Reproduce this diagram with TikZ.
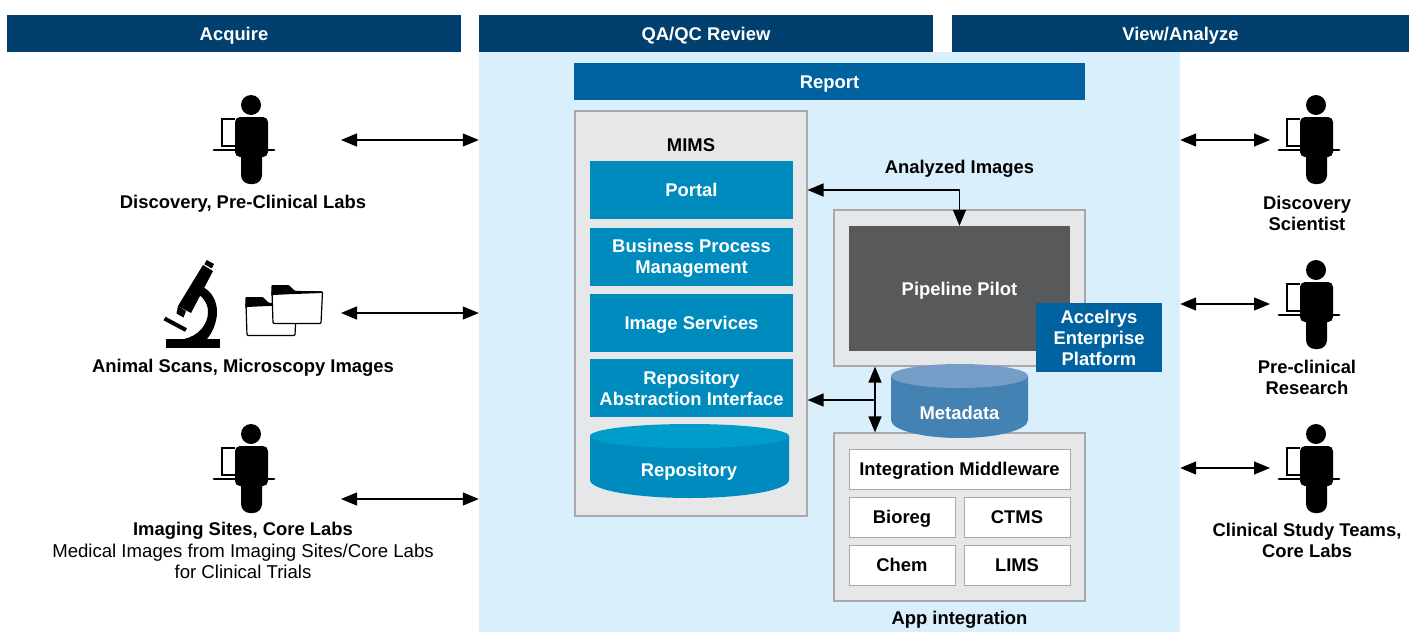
\documentclass[tikz,border=0pt]{standalone}
\usepackage{fontspec}
\usetikzlibrary{arrows.meta}
\setmainfont{Liberation Sans}
\definecolor{headblue}{HTML}{003F6E}
\definecolor{reportblue}{HTML}{0063A0}
\definecolor{bgblue}{HTML}{D9EFFB}
\definecolor{midblue}{HTML}{008BBF}
\definecolor{repotop}{HTML}{009DCB}
\definecolor{metaside}{HTML}{4382B3}
\definecolor{metatop}{HTML}{769DC8}
\definecolor{panelgrey}{HTML}{E6E7E8}
\definecolor{panelline}{HTML}{A7A9AC}
\definecolor{pilotgrey}{HTML}{58595B}
\tikzset{
  headbar/.style={fill=headblue,text=white,font=\fontsize{18.4}{21}\selectfont\bfseries,minimum height=37pt,inner sep=0pt,text height=16pt,text depth=3pt},
  bluebox/.style={fill=midblue,text=white,font=\fontsize{18.4}{21}\selectfont\bfseries,align=center,minimum width=203pt,inner sep=0pt},
  panel/.style={fill=panelgrey,draw=panelline,line width=1.2pt,inner sep=0pt},
  whitebox/.style={fill=white,draw=panelline,line width=1pt,font=\fontsize{18.4}{21}\selectfont\bfseries,inner sep=0pt,text height=16pt,text depth=3pt},
  caption/.style={font=\fontsize{18.4}{21}\selectfont\bfseries,align=center,inner sep=0pt},
  plaincap/.style={font=\fontsize{18.6}{21}\selectfont,align=center,inner sep=0pt},
  arr/.style={line width=1.3pt,{Triangle[length=16pt,width=13pt]}-{Triangle[length=16pt,width=13pt]}},
  person/.pic={
    \fill (0,0) circle[radius=10pt];
    \fill[rounded corners=5pt] (-16,12) rectangle (17,52);
    \fill[rounded corners=9pt] (-10,35) rectangle (11,79);
    \draw[line width=2pt] (-16,14) -- (-29,14) -- (-29,41) -- (-16,41);
    \draw[line width=2.8pt,line cap=round] (-37,45) -- (23,45);
  },
  folder/.pic={
    \draw[fill=white,line width=1.2pt,rounded corners=1pt] (0,6) -- (50.5,7) -- (49,38.5) -- (1,38.5) -- cycle;
    \fill[rounded corners=1pt] (-0.6,12) -- (-0.6,0) -- (17,0) -- (23,6) -- (50.8,6.5) -- (50.8,8) -- (22,9) -- (0.6,10) -- cycle;
  }
}
\begin{document}
\begin{tikzpicture}[x=1pt,y=-1pt]
\useasboundingbox (0,0) rectangle (1411,632);
% backdrop
\node (bg) at (829.5,342) [fill=bgblue,minimum width=701pt,minimum height=580pt,inner sep=0pt] {};
% headers
\node (acquire) at (234,33.5) [headbar,minimum width=454pt] {Acquire};
\node (review) at (706,33.5) [headbar,minimum width=454pt] {QA/QC Review};
\node (viewer) at (1180.5,33.5) [headbar,minimum width=457pt] {View/Analyze};
\node (report) at (829.5,81.5) [headbar,fill=reportblue,minimum width=511pt] {Report};
% MIMS column
\node (mims) at (691,313.5) [panel,minimum width=232pt,minimum height=405pt] {};
\node (mimslabel) at (691,145.5) [caption] {MIMS};
\node (portal) at (691.5,190) [bluebox,minimum height=58pt] {Portal};
\node (bpm) at (691.5,257) [bluebox,minimum height=58pt] {\rule{0pt}{15pt}Business Process\\Management};
\node (imgserv) at (691.5,323) [bluebox,minimum height=58pt,text height=16pt,text depth=3pt] {Image Services};
\node (rai) at (691.5,388) [bluebox,minimum height=58pt] {Repository\\Abstraction Interface};
\fill[midblue] (590,436) -- (590,480) arc[start angle=180,end angle=360,x radius=99.5pt,y radius=18pt] -- (789,436) -- cycle;
\fill[repotop] (689.5,436) ellipse[x radius=99.5pt,y radius=12pt];
\node (repo) at (689,472) [caption,text=white] {Repository};
% pipeline
\node (pipebox) at (959.5,288) [panel,minimum width=251pt,minimum height=156pt] {};
\node (pilot) at (959.5,288.5) [fill=pilotgrey,text=white,font=\fontsize{18.4}{21}\selectfont\bfseries,minimum width=221pt,minimum height=125pt,inner sep=0pt,text height=16pt,text depth=3pt] {Pipeline Pilot};
\node (accelrys) at (1099,337.5) [bluebox,fill=reportblue,minimum width=126pt,minimum height=69pt] {Accelrys\\Enterprise\\Platform};
\node (analyzed) at (959.5,169) [caption] {Analyzed Images};
% app integration
\node (appbox) at (959.5,517) [panel,minimum width=251pt,minimum height=168pt] {};
\node (middleware) at (959.5,469) [whitebox,minimum width=221pt,minimum height=40pt] {Integration Middleware};
\node (bioreg) at (902,517) [whitebox,minimum width=106pt,minimum height=40pt] {Bioreg};
\node (ctms) at (1017,517) [whitebox,minimum width=106pt,minimum height=40pt] {CTMS};
\node (chem) at (902,565) [whitebox,minimum width=106pt,minimum height=40pt] {Chem};
\node (lims) at (1017,565) [whitebox,minimum width=106pt,minimum height=40pt] {LIMS};
\node (applabel) at (959.5,620) [caption] {App integration};
% metadata
\fill[metaside] (891,376) -- (891,420) arc[start angle=180,end angle=360,x radius=68.5pt,y radius=18pt] -- (1028,376) -- cycle;
\fill[metatop] (959.5,376) ellipse[x radius=68.5pt,y radius=12pt];
\node (meta) at (959.5,413) [caption,text=white] {Metadata};
% people on the left
\pic at (251,105) {person};
\node (lab1) at (243,204) [caption] {Discovery, Pre-Clinical Labs};
\pic at (251,434) {person};
\node (lab3) at (243,531) [caption] {Imaging Sites, Core Labs};
\node (lab3b) at (243,561.5) [plaincap] {Medical Images from Imaging Sites/Core Labs\\for Clinical Trials};
% microscope and folders
\fill (166,339) rectangle (220,347.5);
\draw[line width=4pt] (164.5,318.5) -- (186,330);
\fill (206.7,260) -- (214,264) -- (211.7,268.3) -- (204.3,264.3) -- cycle;
\fill (203,265) -- (213,271) -- (191,313) -- (178,306) -- cycle;
\fill (178,306) -- (186,311) -- (183.5,317.5) -- (176.5,313.5) -- cycle;
\fill (203,287) .. controls (212,292) and (217,301) .. (217,312) .. controls (217,323) and (212,333) .. (207,339) -- (184,339) .. controls (198,336) and (208,325) .. (208,312) .. controls (208,304) and (204,298) .. (198,294) -- cycle;
\pic at (246,297) {folder};
\pic at (272,285) {folder};
\node (lab2) at (243,368) [caption] {Animal Scans, Microscopy Images};
% people on the right
\pic at (1316,105) {person};
\node (sci) at (1307,213) [caption] {Discovery\\Scientist};
\pic at (1316,270) {person};
\node (res) at (1307,377) [caption] {Pre-clinical\\Research};
\pic at (1316,434) {person};
\node (teams) at (1307,540.5) [caption] {Clinical Study Teams,\\Core Labs};
% connectors
\coordinate (in1) at (341,140);
\coordinate (in2) at (341,313);
\coordinate (in3) at (341,499);
\coordinate (out1) at (1270,140);
\coordinate (out2) at (1270,304);
\coordinate (out3) at (1270,468);
\coordinate (busjoin) at (875,400);
\coordinate (portalport) at (807.5,190);
\draw[arr] (in1) -- (bg.west |- in1);
\draw[arr] (in2) -- (bg.west |- in2);
\draw[arr] (in3) -- (bg.west |- in3);
\draw[arr] (bg.east |- out1) -- (out1);
\draw[arr] (bg.east |- out2) -- (out2);
\draw[arr] (bg.east |- out3) -- (out3);
\draw[arr] (portalport) -| (pilot.north);
\draw[arr] (busjoin |- pipebox.south) -- (busjoin |- appbox.north);
\draw[arr,{Triangle[length=16pt,width=13pt]}-] (mims.east |- busjoin) -- (busjoin);
\end{tikzpicture}
\end{document}
